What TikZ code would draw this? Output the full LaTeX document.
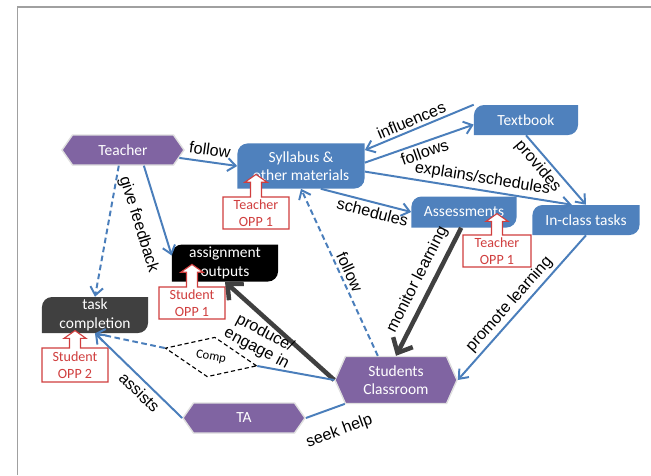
\documentclass[tikz,border=0pt]{standalone}
\usepackage{fontspec}
\setmainfont{Liberation Sans}
\newfontfamily\boxfont{Carlito}
\usetikzlibrary{arrows.meta,calc,shapes.geometric,shapes.symbols,shapes.arrows}
\definecolor{NodePurple}{RGB}{128,100,162}
\definecolor{NodeBlue}{RGB}{79,129,189}
\definecolor{LineBlue}{RGB}{74,126,187}
\definecolor{DarkFill}{RGB}{64,64,64}
\definecolor{OppRed}{RGB}{208,62,62}
\definecolor{FrameGray}{RGB}{160,160,160}
\tikzset{
  flow/.style={-{Straight Barb[length=2mm,width=3.2mm]},line width=1.4pt,draw=LineBlue},
  dashflow/.style={flow,dash pattern=on 4pt off 2.5pt},
  heavyflow/.style={-{Straight Barb[length=3mm,width=5.5mm]},line width=3.2pt,draw=DarkFill},
  link/.style={line width=1.4pt,draw=LineBlue},
  lbl/.style={font=\fontsize{11.5}{12.5}\selectfont,align=center,inner sep=2pt},
  hexa/.style={shape=signal,signal to=east and west,signal pointer angle=110,
    fill=NodePurple,draw=gray!25,line width=1pt,text=white,
    font=\boxfont\fontsize{11}{13}\selectfont,align=center,
    minimum width=3.05cm,minimum height=0.75cm,inner sep=1pt},
  diagbox/.style={rectangle,text=white,font=\boxfont\fontsize{11}{13}\selectfont,
    align=center,inner sep=1pt,
    path picture={\fill[#1] (path picture bounding box.south west)
      -- ($(path picture bounding box.north west)+(0pt,-0.25cm)$)
         arc[start angle=180,end angle=90,radius=0.25cm]
      -- (path picture bounding box.north east)
      -- ($(path picture bounding box.south east)+(0pt,0.25cm)$)
         arc[start angle=0,end angle=-90,radius=0.25cm]
      -- cycle;}},
  diagbox/.default=NodeBlue,
  oppbox/.style={shape=arrow box,arrow box arrows={north:0.55cm},
    arrow box shaft width=0.275cm,arrow box head extend=0.14cm,
    arrow box head indent=0pt,arrow box tip angle=110,
    draw=OppRed,fill=white,text=OppRed,line width=0.8pt,
    font=\boxfont\fontsize{10}{12}\selectfont,align=center,
    minimum width=1.65cm,minimum height=0.8cm,inner sep=1pt},
  compbox/.style={diamond,draw=black,dash pattern=on 3pt off 2pt,line width=0.8pt,
    minimum width=2.33cm,minimum height=0.85cm,inner sep=0pt,
    font=\boxfont\fontsize{9}{10}\selectfont}
}

\begin{document}
\begin{tikzpicture}[x=0.025cm,y=-0.025cm]
  \useasboundingbox (0,0) rectangle (651,475);
  \draw[FrameGray,line width=1pt] (17.5,475) -- (17.5,7) -- (651,7);

  % actors
  \node[hexa] (teacher) at (123,150) {Teacher};
  \node[hexa,minimum height=1.175cm,signal pointer angle=132] (students) at (396,380) {Students\\Classroom};
  \node[hexa] (ta) at (244,418) {TA};

  % materials and products
  \node[diagbox,minimum width=3.175cm,minimum height=1.125cm] (syll) at (301,166) {Syllabus \&\\other materials};
  \node[diagbox,minimum width=2.6cm,minimum height=0.75cm] (textbook) at (526,120) {Textbook};
  \node[diagbox,minimum width=2.625cm,minimum height=0.775cm] (assess) at (464,212) {Assessments};
  \node[diagbox,minimum width=2.675cm,minimum height=0.75cm] (inclass) at (586,220) {In-class tasks};
  \node[diagbox=black,minimum width=2.65cm,minimum height=0.925cm] (assign) at (225,263) {assignment\\outputs};
  \node[diagbox=DarkFill,minimum width=2.65cm,minimum height=0.9cm] (task) at (95,315) {task\\completion};
  \node[compbox,rotate=-11] (comp) at (211,357) {Comp};

  % OPP markers
  \node[oppbox] (opp1) at (256,213) {Teacher\\OPP 1};
  \node[oppbox,minimum width=1.7cm,arrow box arrows={north:0.52cm}] (opp2) at (497,251) {Teacher\\OPP 1};
  \node[oppbox] (opp3) at (192,303) {Student\\OPP 1};
  \node[oppbox,minimum height=0.85cm,arrow box arrows={north:0.42cm}] (opp4) at (75,365) {Student\\OPP 2};

  % connectors
  \draw[flow] (teacher.-8) -- node[lbl,above=2pt,sloped] (lfollow) {follow} (syll.west);
  \draw[flow] (textbook.north west) -- node[lbl,above,sloped,pos=0.54] (linfl) {influences} (syll.14);
  \draw[flow] (syll.3) -- node[lbl,below,sloped,pos=0.52] (lfollows) {follows} (textbook.185);
  \draw[flow] (syll.-5) -- node[lbl,above,sloped,pos=0.56] (lexpl) {explains/schedules} (inclass.133);
  \draw[flow] (textbook.south) -- node[lbl,below,sloped,pos=0.34] (lprov) {provides} (inclass.north);
  \draw[flow] (syll.-49) -- node[lbl,below,sloped,pos=0.6] (lsched) {schedules} (assess.west);
  \draw[flow] (teacher.-37) -- node[lbl,below=8pt,sloped,pos=0.58] (lfeed) {give feedback} (assign.172);
  \draw[dashflow] (teacher.-105) -- (task.north);
  \draw[dashflow] (students.127) -- node[lbl,above,sloped,pos=0.48] (lstfollow) {follow} (syll.south);
  \draw[heavyflow] (assess.-100) -- node[lbl,above=2pt,sloped,pos=0.46] (lmon) {monitor learning} (students.north);
  \draw[flow] (inclass.south) -- node[lbl,above,sloped,pos=0.53] (lprom) {promote learning} (students.east);
  \draw[heavyflow] (students.west) -- node[lbl,pos=0.6,xshift=-0.2cm,yshift=-0.5cm,rotate=-28] (lprod) {produce/\\engage in} (assign.south);
  \draw[link] (students.west) -- (comp.east);
  \draw[dashflow] (comp.west) -- (task.south);
  \draw[flow] (ta.west) -- node[lbl,below=1pt,sloped,pos=0.4] (lassist) {assists} (task.south);
  \draw[link] (ta.east) -- node[lbl,below=9pt,sloped,pos=0.65] (lhelp) {seek help} (students.-155);
\end{tikzpicture}
\end{document}
